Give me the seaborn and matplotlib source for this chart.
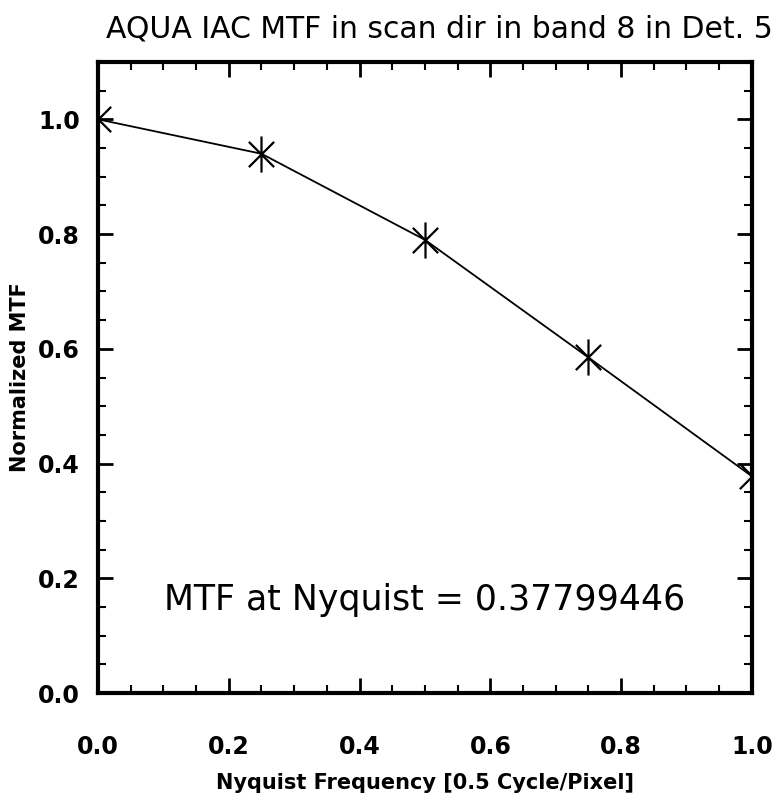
import matplotlib
matplotlib.use("Agg")
import matplotlib.pyplot as plt
from matplotlib.ticker import MultipleLocator, FormatStrFormatter
from matplotlib.path import Path
import seaborn as sns
import pandas as pd

# Data
freq = [0.0, 0.25, 0.5, 0.75, 1.0]
mtf = [1.0, 0.94, 0.79, 0.585, 0.378]
title = "AQUA IAC MTF in scan dir in band 8 in Det. 5"
annotation = "MTF at Nyquist = 0.37799446"
xlabel = "Nyquist Frequency [0.5 Cycle/Pixel]"
ylabel = "Normalized MTF"

sns.set_style("ticks")
plt.rcParams['font.family'] = ['DejaVu Sans']
plt.rcParams['text.color'] = 'black'
plt.rcParams['axes.labelcolor'] = 'black'

df = pd.DataFrame({"freq": freq, "mtf": mtf})

# IDL-style asterisk: vertical bar plus an X
star = Path([(0, -1), (0, 1), (-0.7, -0.7), (0.7, 0.7), (-0.7, 0.7), (0.7, -0.7)],
            [Path.MOVETO, Path.LINETO, Path.MOVETO, Path.LINETO, Path.MOVETO, Path.LINETO])

fig = plt.figure(figsize=(7.84, 7.94), dpi=100)
ax = fig.add_axes([0.125, 0.127, 0.834, 0.795])

sns.lineplot(data=df, x="freq", y="mtf", ax=ax, color="black", linewidth=1.3,
             marker=star, markersize=26, markeredgewidth=1.6,
             markeredgecolor="black", zorder=3)

ax.set_xlim(0, 1.0)
ax.set_ylim(0, 1.1)
ax.xaxis.set_major_locator(MultipleLocator(0.2))
ax.xaxis.set_minor_locator(MultipleLocator(0.05))
ax.yaxis.set_major_locator(MultipleLocator(0.2))
ax.yaxis.set_minor_locator(MultipleLocator(0.05))
ax.xaxis.set_major_formatter(FormatStrFormatter("%.1f"))
ax.yaxis.set_major_formatter(FormatStrFormatter("%.1f"))

ax.tick_params(which="both", direction="in", top=True, right=True, colors="black")
ax.tick_params(which="major", length=11, width=2, labelsize=17)
ax.tick_params(axis="x", which="major", pad=30)
ax.tick_params(axis="y", which="major", pad=13)
ax.tick_params(which="minor", length=6, width=1.5)
for sp in ax.spines.values():
    sp.set_linewidth(3)
    sp.set_color("black")

fig.text(0.56, 0.963, title, fontsize=21.5, ha="center", va="center", color="black")
ax.set_xlabel(xlabel, fontsize=15, fontweight="bold", labelpad=10)
ax.set_ylabel(ylabel, fontsize=15, fontweight="bold", labelpad=6)

ax.text(0.5, 0.163, annotation, fontsize=25, ha="center", va="center",
        color="black", transform=ax.transData)

fig.canvas.draw()
for lab in ax.get_xticklabels() + ax.get_yticklabels():
    lab.set_fontweight("bold")
    lab.set_fontsize(17)

fig.savefig("out.png", dpi=100, facecolor="white")
